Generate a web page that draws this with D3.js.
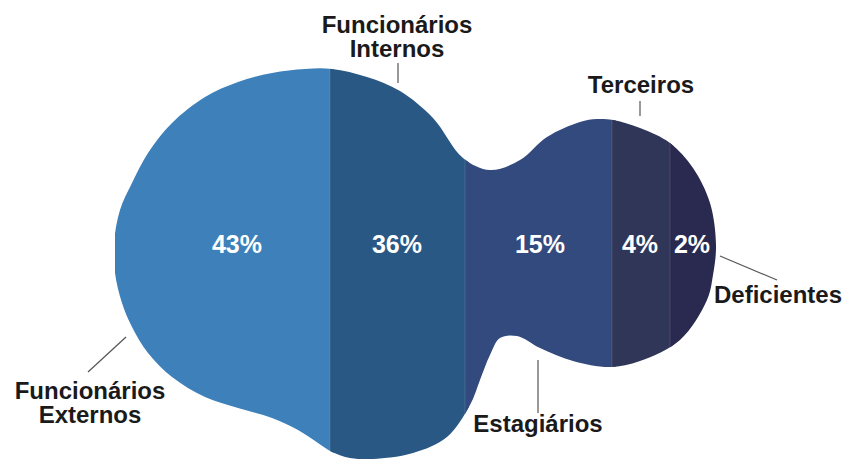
<!DOCTYPE html>
<html>
<head>
<meta charset="utf-8">
<script src="https://cdn.jsdelivr.net/npm/d3@7"></script>
<style>
  html, body { margin: 0; padding: 0; background: #ffffff; }
  svg { display: block; }
  text { font-family: "Liberation Sans", Arial, Helvetica, sans-serif; font-weight: bold; }
</style>
</head>
<body>
<svg id="chart" width="845" height="459"></svg>
<script>
// Workforce composition by type of employee
const categories = ["Funcionários Externos", "Funcionários Internos", "Estagiários", "Terceiros", "Deficientes"];
const shares = [43, 36, 15, 4, 2];
const valueLabels = shares.map(v => v + "%");
const colors = ["#3d80ba", "#2a5884", "#324a7d", "#2f3657", "#2a2950"];

// Layout of the blob, in local shape units (x: 0..600, y: 0..390)
const bandEdges = [0, 215, 350, 497, 555, 601];
const valueLabelX = [122, 282, 425, 525, 577];
const valueLabelY = 184;
const outline = [
  [217, 0], [252, 8], [285, 22], [318, 49], [348, 89], [375, 101], [405, 91],
  [432, 68], [465, 53], [482, 50], [498, 51], [525, 59], [555, 74], [578, 99],
  [595, 134], [601, 176], [598, 206], [592, 231], [565, 271], [525, 292],
  [495, 298], [458, 292], [425, 279], [402, 267], [385, 269], [375, 286],
  [365, 311], [355, 336], [332, 368], [298, 384], [258, 390], [235, 389],
  [217, 383], [203, 374], [183, 361], [157, 349], [123, 339], [90, 328],
  [57, 308], [33, 284], [17, 258], [7, 234], [0, 204], [-1, 174], [5, 141],
  [17, 114], [33, 84], [57, 54], [90, 28], [123, 13], [157, 4], [190, 0]
];

// Category labels: text anchor position and leader line (page units)
const labelPos = [
  { x: 90, y: 399, lines: ["Funcionários", "Externos"], lead: [[88, 372], [126, 337]] },
  { x: 397, y: 33, lines: ["Funcionários", "Internos"], lead: [[398, 63], [398, 83]] },
  { x: 538, y: 432, lines: ["Estagiários"], lead: [[538, 360], [538, 413]] },
  { x: 641, y: 93, lines: ["Terceiros"], lead: [[640, 101], [640, 116]] },
  { x: 778, y: 303, lines: ["Deficientes"], lead: [[720, 256], [777, 280]] }
];

const svg = d3.select("#chart");

const x = d3.scaleLinear().domain([0, 600]).range([115, 715]);
const y = d3.scaleLinear().domain([0, 390]).range([69, 459]);

const blobPath = d3.line()
  .x(d => x(d[0]))
  .y(d => y(d[1]))
  .curve(d3.curveCatmullRomClosed.alpha(0.5))(outline);

svg.append("defs").append("clipPath").attr("id", "blob")
  .append("path").attr("d", blobPath);

const bands = categories.map((c, i) => ({
  name: c, value: shares[i], label: valueLabels[i],
  x0: bandEdges[i], x1: bandEdges[i + 1], color: colors[i], lx: valueLabelX[i]
}));

const g = svg.append("g").attr("clip-path", "url(#blob)");

g.selectAll("rect.band")
  .data(bands)
  .join("rect")
  .attr("class", "band")
  .attr("x", d => x(d.x0))
  .attr("width", d => x(d.x1) - x(d.x0) + 4)
  .attr("y", y(0) - 5)
  .attr("height", y(390) - y(0) + 10)
  .attr("fill", d => d.color);

// faint seams between bands
g.selectAll("line.seam")
  .data(bands.slice(1))
  .join("line")
  .attr("class", "seam")
  .attr("x1", d => x(d.x0)).attr("x2", d => x(d.x0))
  .attr("y1", y(0) - 5).attr("y2", y(390) + 5)
  .attr("stroke", "rgba(255,255,255,0.12)")
  .attr("stroke-width", 1);

svg.selectAll("text.value")
  .data(bands)
  .join("text")
  .attr("class", "value")
  .attr("x", d => x(d.lx))
  .attr("y", y(valueLabelY))
  .attr("text-anchor", "middle")
  .attr("fill", "#ffffff")
  .attr("font-size", 25)
  .text(d => d.label);

// leader lines
svg.selectAll("line.lead")
  .data(labelPos)
  .join("line")
  .attr("class", "lead")
  .attr("x1", d => d.lead[0][0]).attr("y1", d => d.lead[0][1])
  .attr("x2", d => d.lead[1][0]).attr("y2", d => d.lead[1][1])
  .attr("stroke", "#555555")
  .attr("stroke-width", 1.2);

const cat = svg.selectAll("text.cat")
  .data(labelPos)
  .join("text")
  .attr("class", "cat")
  .attr("x", d => d.x)
  .attr("y", d => d.y)
  .attr("text-anchor", "middle")
  .attr("fill", "#1a1a1a")
  .attr("font-size", 24);

cat.selectAll("tspan")
  .data(d => d.lines.map(t => ({ t, x: d.x })))
  .join("tspan")
  .attr("x", d => d.x)
  .attr("dy", (d, i) => i === 0 ? 0 : 24)
  .text(d => d.t);
</script>
</body>
</html>
